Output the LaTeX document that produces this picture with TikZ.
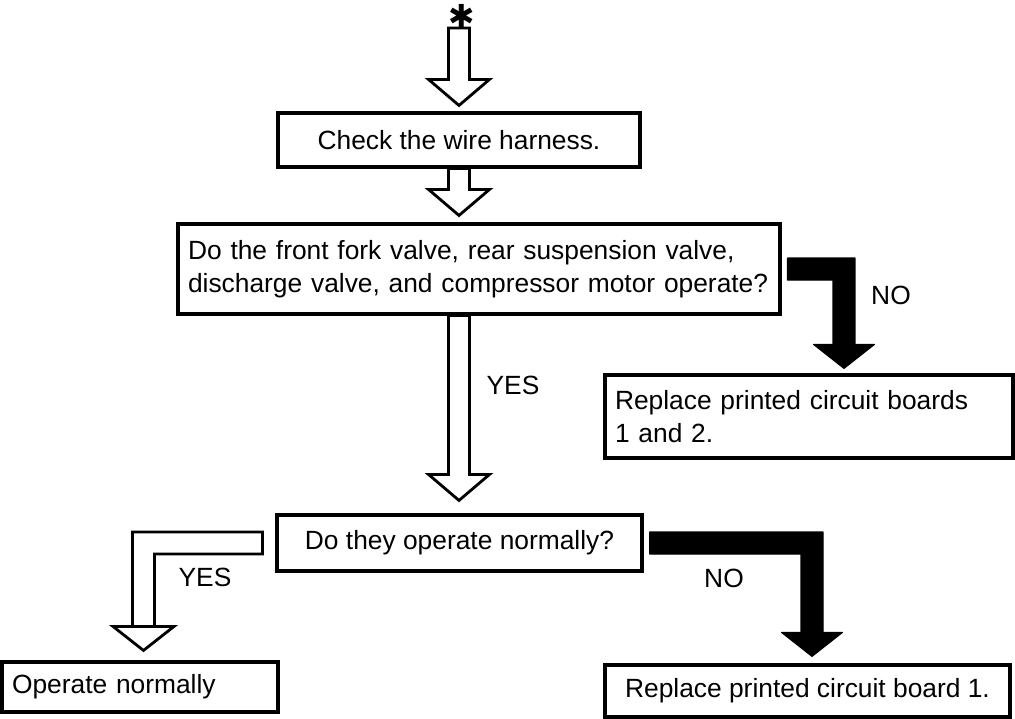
\documentclass[tikz,border=0pt]{standalone}
\usepackage{fontspec}
\setmainfont{Liberation Sans}
\newfontfamily\symbolfont{DejaVu Sans}
\usetikzlibrary{calc}
\tikzset{
  box/.style={
    draw, line width=1.8pt,
    inner xsep=0.2cm, inner ysep=0pt,
    font=\fontsize{15}{18.8}\selectfont, align=center
  },
  leftbox/.style={box, align=left},
  whitearrow/.style={draw, line width=1.6pt, fill=white, line join=miter},
  blackarrow/.style={draw=black, fill=black, line width=0.6pt, line join=round},
  tag/.style={font=\fontsize{15}{18}\selectfont, inner sep=0pt},
  startmark/.style={font=\symbolfont\fontsize{18}{18}\selectfont, inner sep=0pt},
}
% block arrow straight down: start, style, tip
\newcommand\downblock[3]{%
  \path[#2] let \p1=(#1), \p2=(#3) in
    (\x2-0.21cm,\y1) -- (\x2+0.21cm,\y1) -- (\x2+0.21cm,\y2+0.52cm)
    -- (\x2+0.61cm,\y2+0.52cm) -- (\x2,\y2) -- (\x2-0.61cm,\y2+0.52cm)
    -- (\x2-0.21cm,\y2+0.52cm) -- cycle;}
% block arrow sideways then down: start, style, tip, 1 = right / -1 = left
\newcommand\bendblock[4]{%
  \path[#2] let \p1=(#1), \p2=(#3) in
    (\x1,\y1+0.22cm) -- ({\x2+(#4)*0.22cm},\y1+0.22cm)
    -- ({\x2+(#4)*0.22cm},\y2+0.48cm) -- (\x2+0.61cm,\y2+0.48cm)
    -- (\x2,\y2) -- (\x2-0.61cm,\y2+0.48cm)
    -- ({\x2-(#4)*0.22cm},\y2+0.48cm) -- ({\x2-(#4)*0.22cm},\y1-0.22cm)
    -- (\x1,\y1-0.22cm) -- cycle;}

\begin{document}
\begin{tikzpicture}[x=0.02cm, y=-0.02cm]
  \useasboundingbox (0,0) rectangle (1015,718);

  \node[box, minimum width=7.24cm, minimum height=1.08cm] (check) at (459,140) {Check the wire harness.};
  \node[leftbox, text width=11.64cm, minimum height=1.8cm] (q1) at (479,269)
    {Do the front fork valve, rear suspension valve,\\discharge valve, and compressor motor operate?};
  \node[leftbox, text width=7.76cm, minimum height=1.66cm] (q1fail) at (809,416.5)
    {Replace printed circuit boards\\1 and 2.};
  \node[box, minimum width=7.3cm, minimum height=1.12cm] (q2) at (459.5,543) {Do they operate normally?};
  \node[box, minimum width=8.1cm, minimum height=1.04cm] (fail) at (807.5,691) {Replace printed circuit board 1.};
  \node[leftbox, text width=5.12cm, minimum height=1cm] (ok) at (140,687) {Operate normally};

  \node[startmark] (star) at (462,16) {✱};

  \node[tag] (no1) at (891,295) {NO};
  \node[tag] (yes1) at (513,385) {YES};
  \node[tag] (yes2) at (205,577) {YES};
  \node[tag] (no2) at (724,578) {NO};

  % start
  \downblock{462,28}{whitearrow}{$(check.north)+(0,0.12cm)$}
  \downblock{check.south}{whitearrow}{$(check.south |- q1.north)+(0,0.14cm)$}

  % first question
  \downblock{check.south |- q1.south}{whitearrow}{$(check.south |- q2.north)+(0,0.26cm)$}
  \bendblock{$(q1.east)+(0.12cm,0)$}{blackarrow}{$(q1fail.north)+(0.7cm,0.1cm)$}{1}

  % second question
  \bendblock{$(q2.west)+(-0.26cm,0)$}{whitearrow}{$(ok.north)+(0.07cm,0.2cm)$}{-1}
  \bendblock{$(q2.east)+(0.12cm,0)$}{blackarrow}{$(fail.north)+(0.09cm,0.14cm)$}{1}
\end{tikzpicture}
\end{document}
